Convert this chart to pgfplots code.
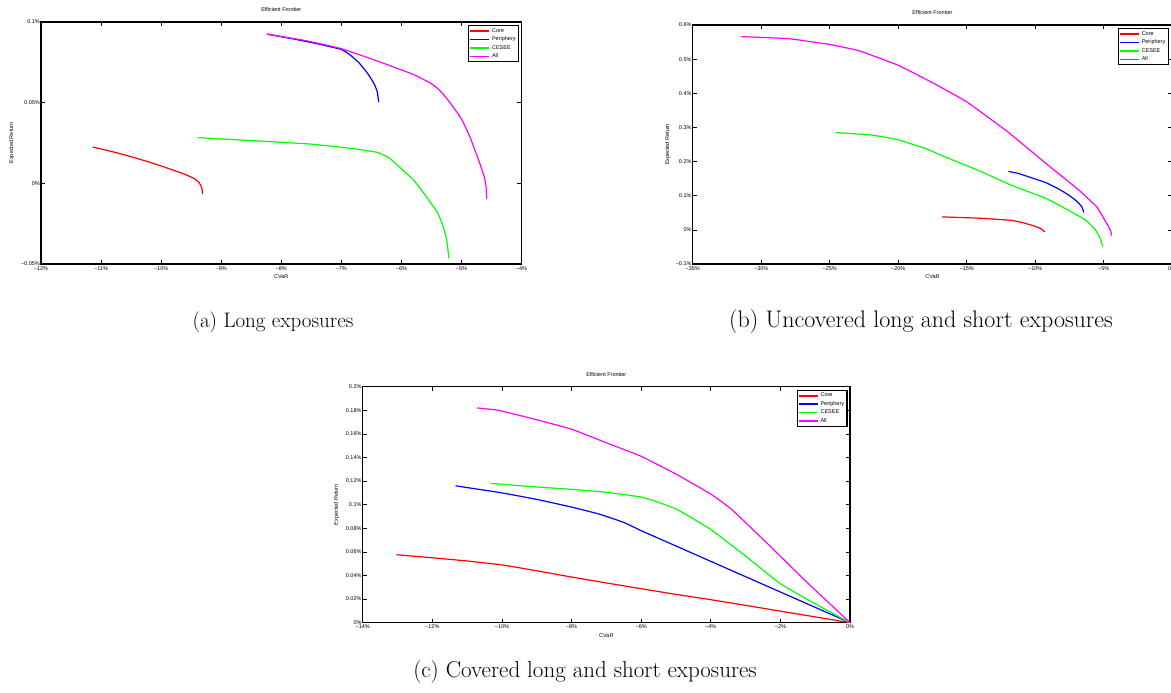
\documentclass[border=0pt]{standalone}
\usepackage{fontspec}
\usepackage{pgfplots}
\pgfplotsset{compat=1.18}
\newfontfamily\mfont{Liberation Sans}
\newcommand{\mf}{\mfont\fontsize{5.5}{6}\selectfont}
\definecolor{mred}{RGB}{255,0,0}
\definecolor{mblue}{RGB}{0,0,255}
\definecolor{mgreen}{RGB}{0,255,0}
\definecolor{mmag}{RGB}{255,0,255}
\pgfplotsset{
  mat/.style={
    scale only axis,
    axis line style={line width=1.2pt},
    tick align=inside, xtick pos=both, ytick pos=both,
    major tick length=4pt, tick style={black, line width=0.7pt},
    ticklabel style={font=\mf, inner sep=1pt},
    xticklabel style={yshift=-1pt},
    label style={font=\mf, inner sep=0pt},
    title style={font=\mf, inner sep=0pt, at={(0.5,1)}, anchor=center, yshift=6.5pt},
    xlabel style={at={(axis description cs:0.5,-0.053)}, anchor=center},
    legend style={at={(1,1)}, anchor=north east, xshift=-2.5pt, yshift=-3pt,
      draw, line width=1.2pt, font=\mf, inner sep=0.8pt, row sep=-1pt,
      cells={anchor=west}},
    legend image code/.code={\draw[##1, line width=1.5pt] (0pt,0pt) -- (19pt,0pt);},
    every axis plot/.append style={line width=1.2pt, smooth, tension=0.2},
    title=Efficient Frontier, xlabel=CVaR, ylabel=Expected Return,
  }
}
\begin{document}
\begin{tikzpicture}
\path[use as bounding box] (0,0) rectangle (1171pt,693pt);

% (a) long exposures
\begin{axis}[mat, at={(41pt,429pt)}, anchor=south west, width=480.5pt, height=242pt,
  xmin=-12, xmax=-4, ymin=-0.05, ymax=0.1,
  xtick={-12,-11,-10,-9,-8,-7,-6,-5,-4},
  xticklabels={−12\%,−11\%,−10\%,−9\%,−8\%,−7\%,−6\%,−5\%,−4\%},
  ytick={-0.05,0,0.05,0.1},
  yticklabels={−0.05\%,0\%,0.05\%,0.1\%},
  ylabel style={at={(axis description cs:-0.061,0.5)}, anchor=center}]
\addplot[mred] coordinates {(-11.14,0.0225) (-10.8,0.0195) (-10.5,0.0165) (-10.2,0.0132) (-9.9,0.0095) (-9.6,0.0055) (-9.45,0.003) (-9.37,0.0005) (-9.33,-0.002) (-9.315,-0.0045) (-9.31,-0.0067)};
\addplot[mblue] coordinates {(-8.24,0.0925) (-7.8,0.0895) (-7.4,0.0865) (-7.0,0.083) (-6.85,0.0795) (-6.7,0.0745) (-6.55,0.0675) (-6.45,0.0615) (-6.40,0.0565) (-6.377,0.0503)};
\addplot[mgreen] coordinates {(-9.39,0.0283) (-8.5,0.0265) (-7.5,0.0243) (-6.8,0.0215) (-6.4,0.0192) (-6.2,0.0157) (-6.0,0.009) (-5.8,0.0022) (-5.6,-0.0075) (-5.4,-0.018) (-5.3,-0.027) (-5.24,-0.036) (-5.21,-0.0465)};
\addplot[mmag] coordinates {(-8.24,0.0925) (-7.6,0.0885) (-7.0,0.0835) (-6.4,0.0758) (-5.8,0.0675) (-5.5,0.0618) (-5.35,0.0572) (-5.2,0.0505) (-5.0,0.040) (-4.85,0.028) (-4.7,0.013) (-4.62,0.004) (-4.59,-0.002) (-4.58,-0.0098)};
\legend{Core,Periphery,CESEE,All}
\end{axis}

% (b) uncovered long and short exposures
\begin{axis}[mat, at={(692.7pt,429pt)}, anchor=south west, width=479.5pt, height=239pt,
  xmin=-35, xmax=0, ymin=-0.1, ymax=0.6,
  xtick={-35,-30,-25,-20,-15,-10,-5,0},
  xticklabels={−35\%,−30\%,−25\%,−20\%,−15\%,−10\%,−5\%,0\%},
  ytick={-0.1,0,0.1,0.2,0.3,0.4,0.5,0.6},
  yticklabels={−0.1\%,0\%,0.1\%,0.2\%,0.3\%,0.4\%,0.5\%,0.6\%},
  legend style={xshift=-1pt},
  ylabel style={at={(axis description cs:-0.052,0.5)}, anchor=center}]
\addplot[mred] coordinates {(-16.82,0.038) (-14,0.034) (-11.8,0.028) (-11,0.022) (-10.2,0.013) (-9.6,0.004) (-9.3,-0.006)};
\addplot[mblue] coordinates {(-11.95,0.171) (-11.2,0.165) (-10,0.149) (-9.2,0.138) (-8.3,0.12) (-7.6,0.103) (-7,0.085) (-6.6,0.068) (-6.45,0.051)};
\addplot[mgreen] coordinates {(-24.55,0.285) (-22,0.278) (-20.1,0.265) (-18,0.238) (-16.6,0.214) (-14.2,0.175) (-11.7,0.13) (-9.2,0.092) (-7.6,0.058) (-6.3,0.028) (-5.6,0.0) (-5.2,-0.03) (-5.08,-0.05)};
\addplot[mmag] coordinates {(-31.47,0.566) (-28,0.56) (-25,0.543) (-22.8,0.524) (-20,0.482) (-17.4,0.429) (-15,0.375) (-12,0.287) (-9.2,0.194) (-6.8,0.116) (-5.5,0.067) (-4.8,0.02) (-4.5,-0.002) (-4.42,-0.017)};
\legend{Core,Periphery,CESEE,All}
\end{axis}

% (c) covered long and short exposures
\begin{axis}[mat, at={(362.7pt,70.3pt)}, anchor=south west, width=487.3pt, height=236pt,
  xmin=-14, xmax=0, ymin=0, ymax=0.2,
  xtick={-14,-12,-10,-8,-6,-4,-2,0},
  xticklabels={−14\%,−12\%,−10\%,−8\%,−6\%,−4\%,−2\%,0\%},
  ytick={0,0.02,0.04,0.06,0.08,0.1,0.12,0.14,0.16,0.18,0.2},
  yticklabels={0\%,0.02\%,0.04\%,0.06\%,0.08\%,0.1\%,0.12\%,0.14\%,0.16\%,0.18\%,0.2\%},
  ylabel style={at={(axis description cs:-0.054,0.5)}, anchor=center}]
\addplot[mred] coordinates {(-13.03,0.0576) (-12,0.055) (-11,0.0523) (-10,0.049) (-9,0.044) (-8,0.0387) (-7,0.0337) (-6,0.0288) (-5,0.024) (-4,0.0195) (-3,0.0147) (-2,0.0098) (-1,0.0049) (0,0)};
\addplot[mblue] coordinates {(-11.33,0.116) (-10,0.110) (-9,0.1045) (-8,0.098) (-7.2,0.092) (-6.5,0.085) (-6,0.078) (-5,0.065) (-4,0.052) (-3,0.039) (-2,0.026) (-1,0.013) (0,0)};
\addplot[mgreen] coordinates {(-10.31,0.118) (-9,0.115) (-8,0.113) (-7,0.1105) (-6,0.1065) (-5.5,0.102) (-5,0.0965) (-4.5,0.088) (-4,0.079) (-3,0.0565) (-2,0.033) (-1,0.016) (0,0)};
\addplot[mmag] coordinates {(-10.71,0.182) (-10.1,0.180) (-9,0.172) (-8,0.164) (-7,0.1525) (-6,0.141) (-5,0.126) (-4,0.109) (-3.4,0.096) (-2.3,0.065) (-1.3,0.036) (0,0)};
\legend{Core,Periphery,CESEE,All}
\end{axis}

\node[font=\fontsize{21}{25}\selectfont] at (273pt,371pt) {(a) Long exposures};
\node[font=\fontsize{24}{28}\selectfont] at (921pt,371pt) {(b) Uncovered long and short exposures};
\node[font=\fontsize{23}{27}\selectfont] at (585pt,21pt) {(c) Covered long and short exposures};
\end{tikzpicture}
\end{document}
